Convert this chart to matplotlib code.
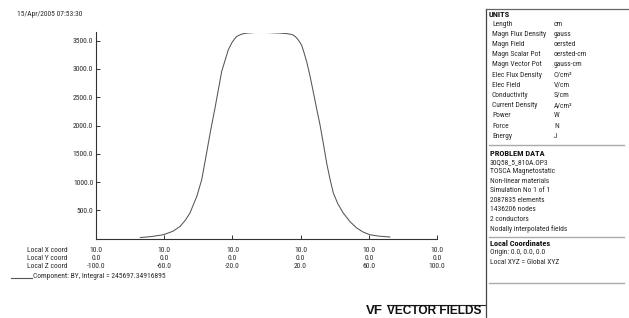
import matplotlib
matplotlib.use('Agg')
import matplotlib.pyplot as plt
from matplotlib import font_manager
from matplotlib.lines import Line2D

# field profile along local Z
z_cm = [-74, -67, -60.5, -55, -50.7, -47.5, -44.9, -40.9, -38.0, -35.5, -34.1,
        -32.7, -30.2, -26.3, -22.4, -20.2, -19.0, -17.5, -16.2, -15.0, -13.8,
        -12.6, -10, -6.7, 0, 7.9, 10, 12.0, 14, 15.7, 17, 18.2, 19.4, 20.6,
        22, 23.6, 25.5, 27.4, 29.4, 31.4, 33.3, 35.3, 37.2, 39.2, 41.8, 45.0,
        49, 52.9, 56.5, 60.6, 66, 72.3]
by_gauss = [20, 40, 70, 130, 217, 330, 454, 747, 1042, 1454, 1690,
            1925, 2310, 2955, 3340, 3470, 3520, 3575, 3595, 3610, 3622,
            3630, 3638, 3645, 3645, 3635, 3630, 3625, 3615, 3600, 3570, 3530, 3480, 3420,
            3290, 3125, 2880, 2600, 2300, 2010, 1690, 1335, 1060, 806, 620, 454,
            300, 190, 120, 70, 45, 30]

y_ticks = [500, 1000, 1500, 2000, 2500, 3000, 3500]
x_ticks = [-100, -60, -20, 20, 60, 100]
x_coord = [10.0] * 6
y_coord = [0.0] * 6

date_text = '15/Apr/2005 07:53:30'
legend_text = 'Component: BY, Integral = 245697.34916895'

units = [('Length', 'cm'), ('Magn Flux Density', 'gauss'), ('Magn Field', 'oersted'),
         ('Magn Scalar Pot', 'oersted-cm'), ('Magn Vector Pot', 'gauss-cm'),
         ('Elec Flux Density', 'C/cm²'), ('Elec Field', 'V/cm'),
         ('Conductivity', 'S/cm'), ('Current Density', 'A/cm²'),
         ('Power', 'W'), ('Force', 'N'), ('Energy', 'J')]
problem_data = ['30Q58_5_810A.OP3', 'TOSCA Magnetostatic', 'Non-linear materials',
                'Simulation No 1 of 1', '2087835 elements', '1436206 nodes',
                '2 conductors', 'Nodally interpolated fields']
local_coords = ['Origin: 0.0, 0.0, 0.0', 'Local XYZ = Global XYZ']

# narrow font if there is one, otherwise just go smaller
installed = {f.name for f in font_manager.fontManager.ttflist}
narrow = [n for n in ['Liberation Sans Narrow', 'DejaVu Sans Condensed', 'Roboto Condensed']
          if n in installed]
if narrow:
    plt.rcParams['font.family'] = [narrow[0], 'DejaVu Sans']
    fs = 5.4
else:
    plt.rcParams['font.family'] = ['Liberation Sans', 'DejaVu Sans']
    fs = 4.6

W, H = 629, 318
fig = plt.figure(figsize=(W / 100, H / 100), dpi=100)


def fx(px):
    return px / W


def fy(py):
    return 1 - py / H


col = '#333333'
tcol = '#2a2a2a'

# plot area
ax = fig.add_axes([fx(96), fy(238.7), fx(437) - fx(96), fy(32.5) - fy(238.7)])
ax.plot(z_cm, by_gauss, color='#555555', lw=0.75)
ax.set_xlim(-100, 100)
ax.set_ylim(0, max(by_gauss))
ax.spines['top'].set_visible(False)
ax.spines['right'].set_visible(False)
for s in ['left', 'bottom']:
    ax.spines[s].set_color(col)
    ax.spines[s].set_linewidth(0.8)
ax.set_yticks(y_ticks)
ax.set_yticklabels(['%.1f' % v for v in y_ticks])
ax.set_xticks(x_ticks)
ax.set_xticklabels(['%.1f\n%.1f\n%.1f' % (a, b, c) for a, b, c in zip(x_coord, y_coord, x_ticks)],
                   linespacing=1.2)
ax.tick_params(direction='in', length=3, width=0.7, color=col, labelsize=fs,
               labelcolor=tcol, pad=2)
ax.tick_params(axis='x', pad=5.8)
ax.patch.set_visible(False)

fig.text(fx(27), fy(246.6), 'Local X coord\nLocal Y coord\nLocal Z coord',
         fontsize=fs, va='top', ha='left', color=tcol, linespacing=1.2)
fig.text(fx(17), fy(15), date_text, fontsize=fs, va='center', color=tcol)

# legend line + text
fig.add_artist(Line2D([fx(11), fx(32)], [fy(278), fy(278)], color='#555555', lw=0.8))
fig.text(fx(33), fy(276), legend_text, fontsize=fs, va='center', color=tcol)

# logo
fig.text(fx(366), fy(311), 'VF', fontsize=9.5, fontweight='bold', va='center',
         family=['Liberation Sans', 'DejaVu Sans'], color='#111111')
fig.text(fx(387), fy(311.5), 'VECTOR FIELDS', fontsize=8.6, fontweight='bold', va='center',
         family=['Liberation Sans', 'DejaVu Sans'], color='#111111')
fig.add_artist(Line2D([fx(387), fx(485)], [fy(305), fy(305)], color='#222222', lw=0.8))

# info panel
fig.add_artist(Line2D([fx(485.5), fx(485.5)], [fy(8.7), 0], color='#444444', lw=0.9))
fig.add_artist(Line2D([fx(485.5), 1], [fy(8.7), fy(8.7)], color='#666666', lw=0.9))
for py in [144.7, 236.7, 282.7]:
    fig.add_artist(Line2D([fx(489), fx(624)], [fy(py), fy(py)], color='#aaaaaa', lw=1.0))

fig.text(fx(489), fy(14.5), 'UNITS', fontsize=fs + 0.6, fontweight='bold', va='center', color='#111111')
for i, (name, unit) in enumerate(units):
    py = 24 + i * 10.2
    fig.text(fx(492), fy(py), name, fontsize=fs, va='center', color=tcol)
    fig.text(fx(554), fy(py), unit, fontsize=fs, va='center', color=tcol)

fig.text(fx(490), fy(153), 'PROBLEM DATA', fontsize=fs + 0.6, fontweight='bold', va='center', color='#111111')
for i, line in enumerate(problem_data):
    fig.text(fx(490), fy(162.5 + i * 9.45), line, fontsize=fs, va='center', color=tcol)

fig.text(fx(490), fy(244), 'Local Coordinates', fontsize=fs + 0.6, fontweight='bold', va='center', color='#111111')
for i, line in enumerate(local_coords):
    fig.text(fx(490), fy(253 + i * 9.2), line, fontsize=fs, va='center', color=tcol)

fig.savefig('out.png', dpi=100)
